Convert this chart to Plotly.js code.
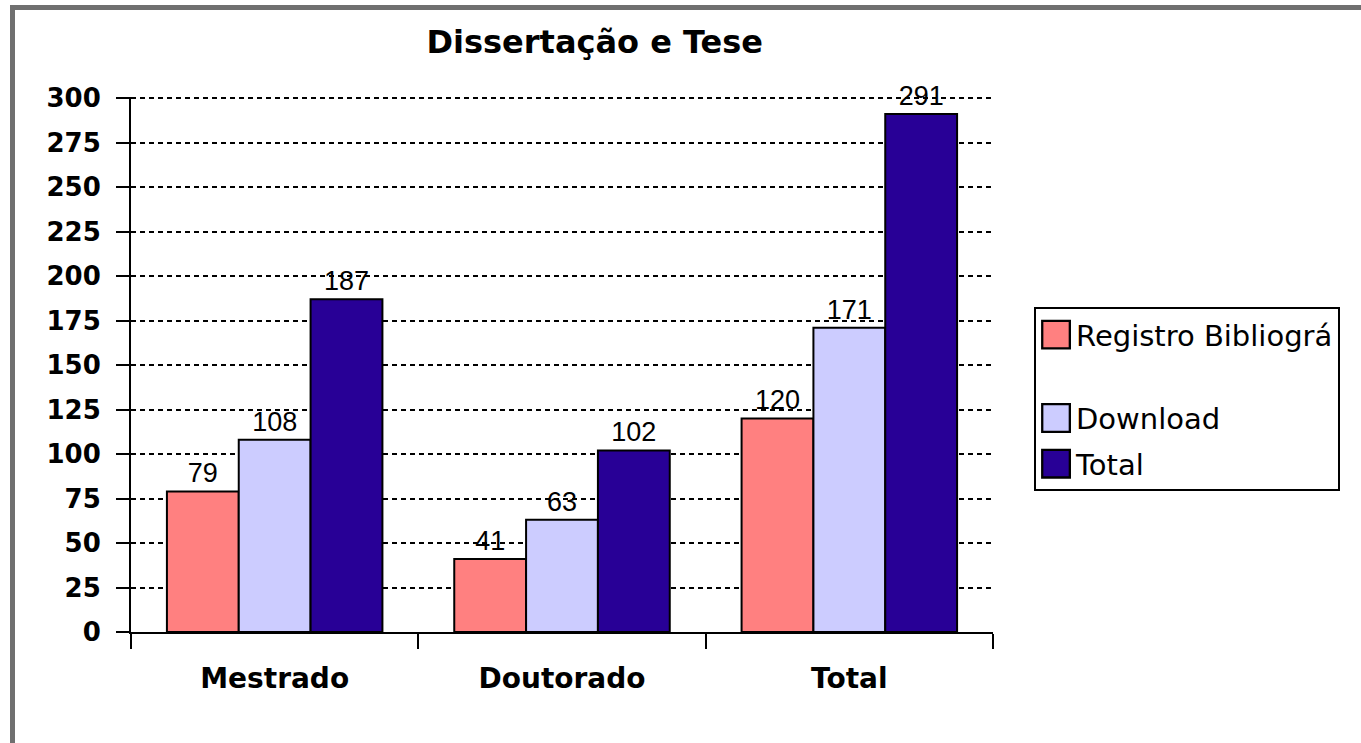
<!DOCTYPE html>
<html>
<head>
<meta charset="utf-8">
<script src="https://cdn.plot.ly/plotly-3.0.1.min.js"></script>
<style>
  html, body { margin: 0; padding: 0; background: #fff; }
  #chart { width: 1361px; height: 743px; }
  #frame { position: absolute; left: 10px; top: 5px; width: 1400px; height: 800px;
           border-left: 5px solid #707070; border-top: 5px solid #707070; pointer-events: none; }
</style>
</head>
<body>
<div id="chart"></div>
<div id="frame"></div>
<script>
const categories = ["Mestrado", "Doutorado", "Total"];
const seriesNames = ["Registro Bibliográ<br> ", "Download", "Total"];
const registroValues = [79, 41, 120];
const downloadValues = [108, 63, 171];
const totalValues = [187, 102, 291];
const yTicks = [0, 25, 50, 75, 100, 125, 150, 175, 200, 225, 250, 275, 300];

const colors = ["#FF8080", "#CCCCFF", "#280096"];
const seriesValues = [registroValues, downloadValues, totalValues];

const traces = seriesValues.map((vals, i) => ({
  type: "bar",
  name: seriesNames[i],
  legendgroup: "g" + i,
  x: categories,
  y: vals,
  text: vals.map(String),
  textposition: "outside",
  constraintext: "none",
  cliponaxis: false,
  textfont: { family: "Liberation Sans, Arial, sans-serif", size: 27, color: "#000" },
  marker: { color: colors[i], line: { color: "#000", width: 2 } },
  hoverinfo: "x+y"
}));

const layout = {
  width: 1361,
  height: 743,
  paper_bgcolor: "#fff",
  plot_bgcolor: "#fff",
  margin: { l: 131, r: 368, t: 97, b: 111 },
  title: {
    text: "<b>Dissertação e Tese</b>",
    font: { family: "DejaVu Sans, Verdana, sans-serif", size: 32, color: "#000" },
    x: 0.538, xref: "paper", xanchor: "center",
    y: 0.944, yref: "container", yanchor: "middle"
  },
  bargap: 0.25,
  bargroupgap: 0,
  barmode: "group",
  showlegend: true,
  legend: {
    x: 1.0476, xref: "paper", xanchor: "left",
    y: 0.607, yref: "paper", yanchor: "top",
    bordercolor: "#000", borderwidth: 2,
    bgcolor: "#fff",
    valign: "top",
    itemwidth: 30,
    traceorder: "grouped",
    tracegroupgap: 5,
    font: { family: "DejaVu Sans, Tahoma, sans-serif", size: 29, color: "#000" }
  },
  xaxis: {
    type: "category",
    showline: true, linecolor: "#000", linewidth: 2,
    ticks: "outside", tickson: "boundaries", ticklen: 15, tickwidth: 2, tickcolor: "#000",
    showgrid: false,
    tickfont: { family: "DejaVu Sans, Verdana, sans-serif", size: 28, color: "#000" },
    tickprefix: "<b>", ticksuffix: "</b>",
    ticklabelstandoff: 20
  },
  yaxis: {
    range: [0, 300.6],
    tickvals: yTicks,
    ticktext: yTicks.map(v => "<b>" + v + "</b>"),
    showline: true, linecolor: "#000", linewidth: 2,
    ticks: "outside", ticklen: 13, tickwidth: 2, tickcolor: "#000",
    showgrid: true, gridcolor: "#000", gridwidth: 2, griddash: "5px,4px",
    zeroline: false,
    tickfont: { family: "DejaVu Sans, Verdana, sans-serif", size: 26, color: "#000" },
    ticklabelstandoff: 10
  }
};

Plotly.newPlot("chart", traces, layout, { displayModeBar: false, staticPlot: true }).then(gd => {
  gd.querySelectorAll(".legend .legendpoints path").forEach(p => {
    const t = p.getAttribute("transform") || "";
    p.setAttribute("transform", t + " scale(2.3)");
    p.style.strokeWidth = "1px";
  });
});
</script>
</body>
</html>
